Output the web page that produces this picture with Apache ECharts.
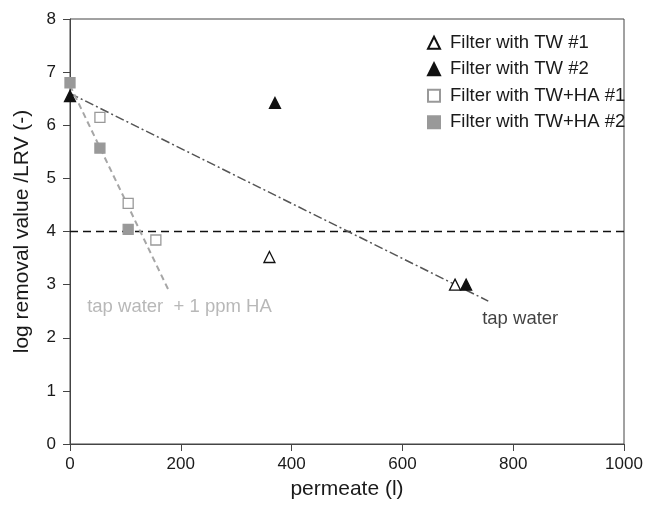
<!DOCTYPE html>
<html>
<head>
<meta charset="utf-8">
<script src="https://cdn.jsdelivr.net/npm/echarts@6/dist/echarts.min.js"></script>
<style>
  html, body { margin: 0; padding: 0; background: #fff; }
  #chart { width: 653px; height: 505px; }
</style>
</head>
<body>
<div id="chart"></div>
<script>
// data
const tw1 = [[360, 3.52], [695, 3.0]]
const tw2 = [[0, 6.55], [370, 6.42], [715, 3.0]]
const twha1 = [[54, 6.15], [105, 4.53], [155, 3.84]]
const twha2 = [[0, 6.8], [54, 5.57], [105, 4.04]]
const tapLine = [[0, 6.6], [755, 2.69]]
const haLine = [[0, 6.75], [180, 2.85]]
const limitLine = [[0, 4], [1000, 4]]
const xTicks = [0, 200, 400, 600, 800, 1000]
const yTicks = [0, 1, 2, 3, 4, 5, 6, 7, 8]
const names = ['Filter with TW #1', 'Filter with TW #2', 'Filter with TW+HA #1', 'Filter with TW+HA #2']
const notes = [
  { text: 'tap water', at: [744, 2.35], color: '#111' },
  { text: 'tap water  + 1 ppm HA', at: [31, 2.59], color: '#a6a6a6' }
]

const font = "'Liberation Sans', Arial, sans-serif"
let chart = echarts.init(document.getElementById('chart'), null, { renderer: 'canvas' })

let scatter = (name, data, symbol, fill, border) => ({
  name: name,
  type: 'scatter',
  data: data,
  symbol: symbol,
  symbolSize: symbol === 'triangle' ? 11 : 10,
  z: 5,
  itemStyle: { color: fill, borderColor: border, borderWidth: 1.3, opacity: 1 }
})

let line = (data, color, width, dash) => ({
  type: 'line',
  data: data,
  symbol: 'none',
  silent: true,
  z: 3,
  lineStyle: { color: color, width: width, type: dash }
})

let noteSeries = notes.map(n => ({
  type: 'scatter',
  data: [n.at],
  symbolSize: 0,
  silent: true,
  label: {
    show: true, position: 'right', distance: 0, formatter: n.text,
    color: n.color, fontSize: 18.5, fontFamily: font
  }
}))

let option = {
  animation: false,
  backgroundColor: '#fff',
  grid: {
    left: 70, top: 19, width: 554, height: 426,
    show: true, borderColor: '#444', borderWidth: 1
  },
  legend: {
    data: names,
    orient: 'vertical',
    left: 422, top: 28,
    itemWidth: 12, itemHeight: 12, itemGap: 7,
    textStyle: { fontSize: 18.5, fontFamily: font, color: '#1a1a1a', lineHeight: 19.5, padding: [0, 0, 0, 5] }
  },
  xAxis: {
    type: 'value', min: xTicks[0], max: xTicks[xTicks.length - 1], interval: 200,
    name: 'permeate (l)', nameLocation: 'middle', nameGap: 35,
    nameTextStyle: { fontSize: 21, fontFamily: font, color: '#1a1a1a' },
    axisLine: { show: true, lineStyle: { color: '#444', width: 1 } },
    axisTick: { show: true, length: 7, lineStyle: { color: '#444' } },
    axisLabel: { fontSize: 17, fontFamily: font, color: '#1a1a1a', margin: 12, formatter: v => String(v) },
    splitLine: { show: false }
  },
  yAxis: {
    type: 'value', min: yTicks[0], max: yTicks[yTicks.length - 1], interval: 1,
    name: 'log removal value /LRV (-)', nameLocation: 'middle', nameGap: 37,
    nameTextStyle: { fontSize: 21, fontFamily: font, color: '#1a1a1a' },
    axisLine: { show: true, lineStyle: { color: '#444', width: 1 } },
    axisTick: { show: true, length: 7, lineStyle: { color: '#444' } },
    axisLabel: { fontSize: 17, fontFamily: font, color: '#1a1a1a', margin: 14 },
    splitLine: { show: false }
  },
  series: [
    line(limitLine, '#111', 1.5, [8, 5]),
    line(tapLine, '#555', 1.5, [9, 3, 2, 3]),
    line(haLine, '#a6a6a6', 2, [6, 4]),
    scatter(names[0], tw1, 'triangle', '#fff', '#111'),
    scatter(names[1], tw2, 'triangle', '#111', '#111'),
    scatter(names[2], twha1, 'rect', '#fff', '#999'),
    scatter(names[3], twha2, 'rect', '#999', '#999'),
    ...noteSeries
  ]
}
chart.setOption(option)
</script>
</body>
</html>
